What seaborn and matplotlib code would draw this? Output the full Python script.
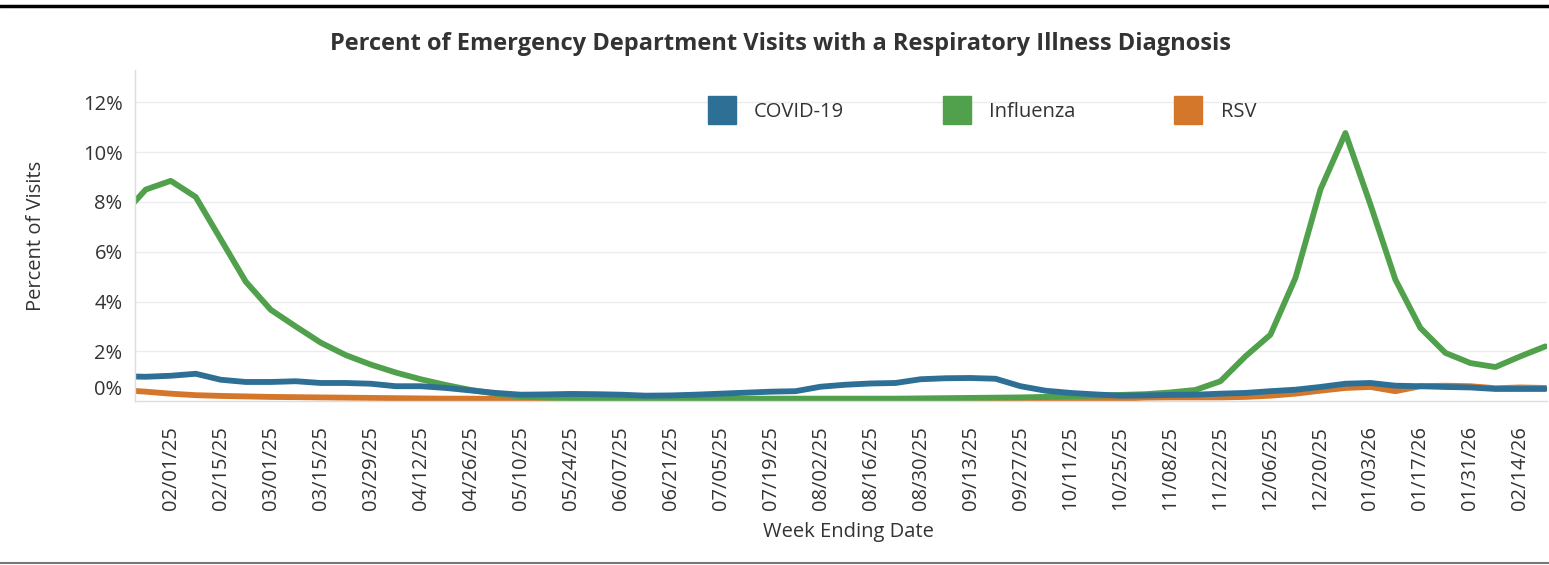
import pandas as pd
import matplotlib.pyplot as plt
from matplotlib.lines import Line2D
from matplotlib.transforms import ScaledTranslation
import seaborn as sns

# weekly ED visit percentages, week ending dates
weeks = pd.date_range('2025-01-18', '2026-02-21', freq='7D')

covid = [1.0, 0.98, 1.02, 1.1, 0.86, 0.77, 0.77, 0.8, 0.73, 0.73,
         0.7, 0.6, 0.6, 0.53, 0.43, 0.33, 0.26, 0.27, 0.29, 0.28,
         0.26, 0.22, 0.23, 0.26, 0.3, 0.34, 0.38, 0.4, 0.58, 0.66,
         0.71, 0.73, 0.88, 0.92, 0.93, 0.9, 0.6, 0.42, 0.33, 0.27,
         0.22, 0.23, 0.25, 0.26, 0.3, 0.33, 0.4, 0.46, 0.57, 0.7,
         0.73, 0.62, 0.6, 0.57, 0.55, 0.49, 0.49, 0.49]

flu = [7.4, 8.5, 8.85, 8.2, 6.5, 4.8, 3.67, 3.0, 2.35, 1.85,
       1.47, 1.15, 0.88, 0.65, 0.45, 0.3, 0.18, 0.14, 0.12, 0.11,
       0.1, 0.1, 0.1, 0.1, 0.1, 0.1, 0.1, 0.1, 0.1, 0.1,
       0.1, 0.1, 0.11, 0.12, 0.13, 0.14, 0.15, 0.17, 0.2, 0.22,
       0.25, 0.28, 0.35, 0.45, 0.8, 1.8, 2.67, 4.95, 8.5, 10.77,
       7.9, 4.88, 2.94, 1.94, 1.53, 1.37, 1.8, 2.2]

rsv = [0.45, 0.38, 0.3, 0.24, 0.21, 0.19, 0.17, 0.16, 0.15, 0.14,
       0.13, 0.12, 0.11, 0.1, 0.1, 0.09, 0.08, 0.08, 0.07, 0.07,
       0.06, 0.06, 0.06, 0.06, 0.06, 0.06, 0.06, 0.06, 0.06, 0.06,
       0.06, 0.06, 0.06, 0.06, 0.06, 0.07, 0.07, 0.08, 0.08, 0.09,
       0.1, 0.14, 0.15, 0.15, 0.15, 0.17, 0.22, 0.3, 0.42, 0.53,
       0.57, 0.4, 0.6, 0.62, 0.6, 0.52, 0.55, 0.53]

series = ['COVID-19', 'Influenza', 'RSV']
colors = {'COVID-19': '#2e6f96', 'Influenza': '#50a04c', 'RSV': '#d4772a'}
yticks = [0, 2, 4, 6, 8, 10, 12]

df = pd.concat([
    pd.DataFrame({'week': weeks, 'pct': covid, 'series': 'COVID-19'}),
    pd.DataFrame({'week': weeks, 'pct': flu, 'series': 'Influenza'}),
    pd.DataFrame({'week': weeks, 'pct': rsv, 'series': 'RSV'}),
])

sns.set_style('white')
plt.rcParams['font.family'] = ['Open Sans', 'DejaVu Sans']
txt = '#333333'
fs = 14.5

fig = plt.figure(figsize=(15.49, 5.65), dpi=100)
ax = fig.add_axes([0.0872, 0.290, 0.9116, 0.586])

# draw RSV first so COVID sits on top like the original
sns.lineplot(data=df, x='week', y='pct', hue='series',
             hue_order=['RSV', 'Influenza', 'COVID-19'], palette=colors,
             linewidth=4.2, legend=False, ax=ax)

ax.set_ylim(0, 13.3)
ax.set_xlim(pd.Timestamp('2025-01-22'), pd.Timestamp('2026-02-21 12:00'))
ax.set_yticks(yticks)
ax.set_yticklabels([f'{v}%' for v in yticks], fontsize=fs, color=txt)
ax.tick_params(axis='y', length=0, pad=9)
# tableau pushes the 0% label up to stay inside the pane
lab0 = ax.get_yticklabels()[0]
lab0.set_transform(lab0.get_transform() + ScaledTranslation(0, 10 / 72, fig.dpi_scale_trans))

for v in yticks[1:]:
    ax.axhline(v, color='#ececec', linewidth=1, zorder=0)

# weekly ticks, label every other week starting 02/01/25
ax.set_xticks(weeks[1:])
ax.set_xticklabels([d.strftime('%m/%d/%y') if i % 2 == 0 else '' for i, d in enumerate(weeks[1:], start=1)],
                   rotation=90, fontsize=fs, color=txt)
ax.tick_params(axis='x', length=5, color='#dddddd', pad=13)

sns.despine(ax=ax)
for s in ['left', 'bottom']:
    ax.spines[s].set_color('#dddddd')
    ax.spines[s].set_linewidth(1)

ax.set_xlabel('Week Ending Date', fontsize=fs, color=txt)
ax.xaxis.set_label_coords(0.505, -0.365)
ax.set_ylabel('Percent of Visits', fontsize=fs, color=txt)
ax.yaxis.set_label_coords(-0.063, 0.5)
fig.text(0.504, 0.922, 'Percent of Emergency Department Visits with a Respiratory Illness Diagnosis',
         ha='center', va='center', fontsize=17, fontweight='bold', color=txt)

handles = [Line2D([], [], marker='s', linestyle='', markersize=20,
                  markerfacecolor=colors[s], markeredgecolor=colors[s]) for s in series]
fig.legend(handles, series, loc='center', bbox_to_anchor=(0.632, 0.802), ncol=3,
           frameon=False, fontsize=fs, labelcolor=txt, columnspacing=4.6,
           handletextpad=0.6)

# frame lines of the dashboard tile
fig.add_artist(Line2D([0, 1], [0.989, 0.989], transform=fig.transFigure, color='black', linewidth=2.5))
fig.add_artist(Line2D([0, 1], [0.004, 0.004], transform=fig.transFigure, color='#777777', linewidth=1.5))

fig.savefig('out.png', dpi=100)
